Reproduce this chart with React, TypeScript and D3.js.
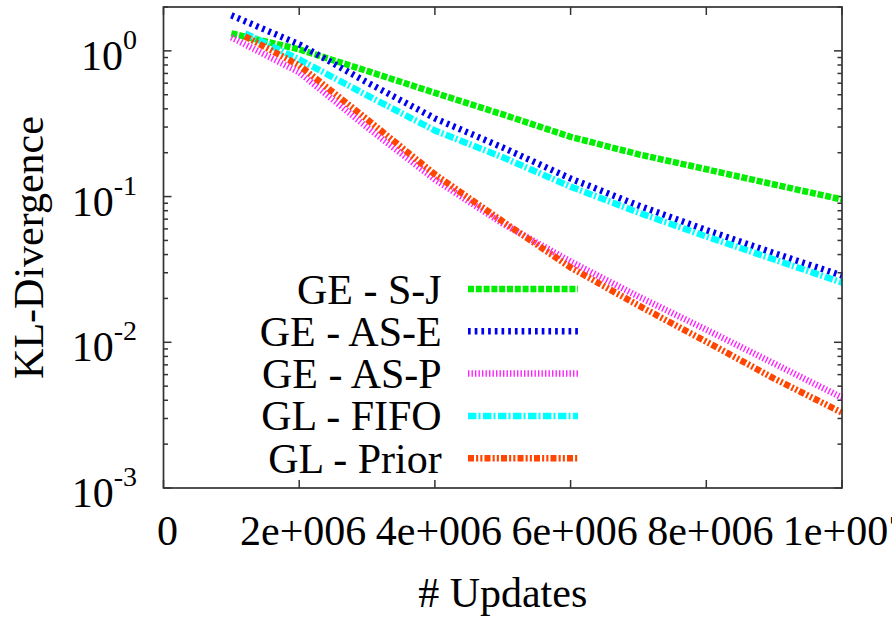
import * as d3 from 'd3'

// x positions of the samples (# updates)
const updates = [1e6, 2e6, 3e6, 4e6, 5e6, 6e6, 7e6, 8e6, 9e6, 1e7]
const updatesLate = [1.2e6, 2e6, 3e6, 4e6, 5e6, 6e6, 7e6, 8e6, 9e6, 1e7]

// KL-divergence per series
const geSJ = [1.318, 1.024, 0.728, 0.515, 0.366, 0.257, 0.195, 0.154, 0.121, 0.0955]
const geASE = [1.753, 1.108, 0.608, 0.344, 0.217, 0.133, 0.0869, 0.0589, 0.0409, 0.0287]
const geASP = [1.238, 0.712, 0.299, 0.131, 0.0653, 0.0358, 0.0206, 0.0122, 0.00714, 0.00417]
const glFIFO = [1.319, 0.874, 0.495, 0.284, 0.186, 0.117, 0.0777, 0.0532, 0.037, 0.0257]
const glPrior = [1.258, 0.795, 0.339, 0.142, 0.0675, 0.0326, 0.0179, 0.0101, 0.00564, 0.00329]

const seriesNames = ['GE - S-J', 'GE - AS-E', 'GE - AS-P', 'GL - FIFO', 'GL - Prior']
const xTickValues = [0, 2e6, 4e6, 6e6, 8e6, 1e7]
const xTickLabels = ['0', '2e+006', '4e+006', '6e+006', '8e+006', '1e+007']
const yDecades = [0, -1, -2, -3]

const series = [
  { name: seriesNames[0], xs: updates, ys: geSJ, color: '#00ee00', dash: '6,1.8' },
  { name: seriesNames[1], xs: updates, ys: geASE, color: '#0000ee', dash: '2.7,4' },
  { name: seriesNames[2], xs: updates, ys: geASP, color: '#ff22ff', dash: '1.4,2.1' },
  { name: seriesNames[3], xs: updatesLate, ys: glFIFO, color: '#00ffff', dash: '8.5,2,2,2.5' },
  { name: seriesNames[4], xs: updatesLate, ys: glPrior, color: '#ff4500', dash: '6,2.1,2.1,2.1,2.1,2.1' }
]

const textStyle = { fontFamily: "'Liberation Serif', 'DejaVu Serif', serif" }
const FS = 42
const AXIS = '#333'

const App = () => {
  const W = 892
  const H = 617
  const left = 163.5
  const right = 842
  const top = 7
  const bottom = 488

  const x = d3.scaleLinear().domain([0, 1e7]).range([left, right])
  const y = d3.scaleLog().domain([1e-3, 2]).range([bottom, top])

  const line = d3
    .line<[number, number]>()
    .x((d) => x(d[0]))
    .y((d) => y(d[1]))

  const yTicks = y.ticks()
  const isMajor = (v: number) => Math.abs(Math.log10(v) - Math.round(Math.log10(v))) < 1e-9

  const legendTextX = 441.7
  const legendX0 = 468
  const legendX1 = 578
  const legendY0 = 289
  const legendStep = 42.3

  return (
    <svg
      width={W}
      height={H}
      style={{ position: 'absolute', left: 0, top: 0, background: '#fff' }}
    >
      <rect x={0} y={0} width={W} height={H} fill='#fff' />

      {/* ticks, mirrored on all sides */}
      <g stroke={AXIS} strokeWidth={1.5}>
        {yTicks.map((t, i) => {
          const len = isMajor(t) ? 8 : 4.5
          const py = y(t)
          return (
            <g key={'yt' + i}>
              <line x1={left} x2={left + len} y1={py} y2={py} />
              <line x1={right} x2={right - len} y1={py} y2={py} />
            </g>
          )
        })}
        {xTickValues.map((t, i) => (
          <g key={'xt' + i}>
            <line x1={x(t)} x2={x(t)} y1={bottom} y2={bottom - 8} />
            <line x1={x(t)} x2={x(t)} y1={top} y2={top + 8} />
          </g>
        ))}
      </g>

      {/* series */}
      <g fill='none'>
        {series.map((s) => (
          <path
            key={s.name}
            d={line(s.xs.map((v, i) => [v, s.ys[i]] as [number, number])) || ''}
            stroke={s.color}
            strokeWidth={6.5}
            strokeDasharray={s.dash}
          />
        ))}
      </g>

      {/* frame */}
      <rect
        x={left}
        y={top}
        width={right - left}
        height={bottom - top}
        fill='none'
        stroke={AXIS}
        strokeWidth={1.7}
      />

      {/* y tick labels */}
      <g fontSize={FS} fill='#000' textAnchor='end'>
        {yDecades.map((e) => (
          <text key={'yl' + e} x={137} y={y(Math.pow(10, e)) + 19} style={textStyle}>
            10
            <tspan dy={-21} fontSize={28}>
              {String(e)}
            </tspan>
          </text>
        ))}
      </g>

      {/* x tick labels */}
      <g fontSize={FS} fill='#000' textAnchor='middle'>
        {xTickValues.map((t, i) => (
          <text key={'xl' + i} x={x(t) + 4} y={545} style={textStyle}>
            {xTickLabels[i]}
          </text>
        ))}
      </g>

      {/* axis titles */}
      <text x={502.7} y={607} fontSize={FS} textAnchor='middle' fill='#000' style={textStyle}>
        # Updates
      </text>
      <text
        transform={`translate(43,247.5) rotate(-90)`}
        fontSize={FS}
        textAnchor='middle'
        fill='#000'
        style={textStyle}
      >
        KL-Divergence
      </text>

      {/* legend */}
      <g>
        {series.map((s, i) => {
          const ly = legendY0 + i * legendStep
          return (
            <g key={'lg' + i}>
              <text
                x={legendTextX}
                y={ly + 14.5}
                fontSize={FS}
                textAnchor='end'
                fill='#000'
                style={textStyle}
              >
                {s.name}
              </text>
              <line
                x1={legendX0}
                x2={legendX1}
                y1={ly}
                y2={ly}
                stroke={s.color}
                strokeWidth={6.5}
                strokeDasharray={s.dash}
              />
            </g>
          )
        })}
      </g>
    </svg>
  )
}

export default App
